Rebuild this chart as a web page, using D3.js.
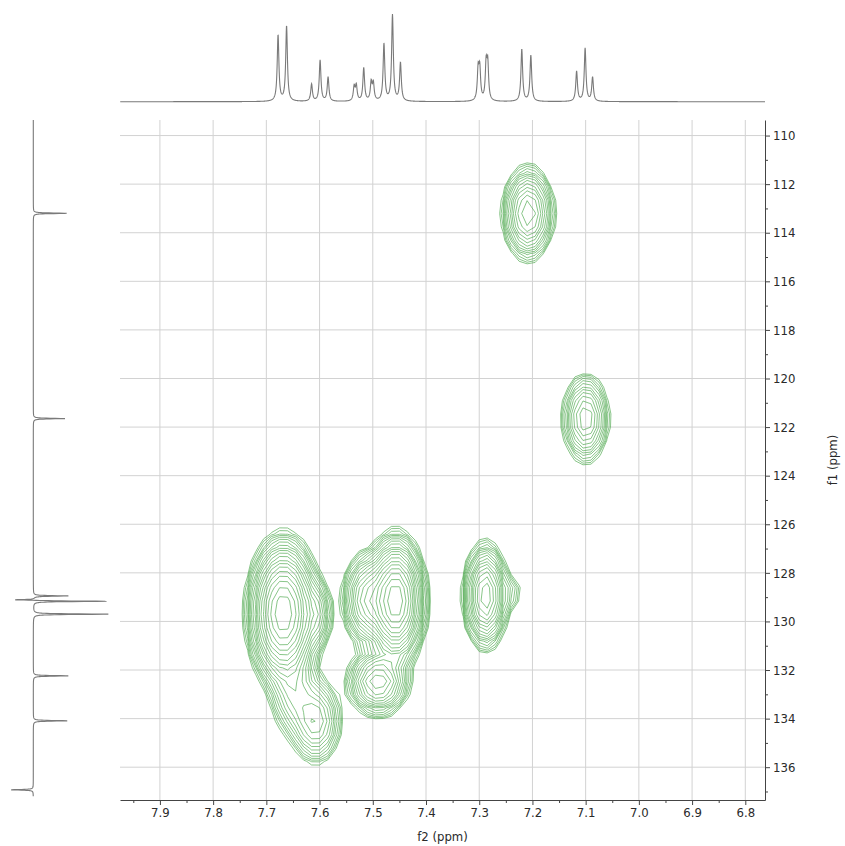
<!DOCTYPE html>
<html>
<head>
<meta charset="utf-8">
<script src="https://cdn.jsdelivr.net/npm/d3@7"></script>
<style>
  body { margin: 0; background: #fff; }
  text { font-family: 'DejaVu Sans Condensed', 'DejaVu Sans', sans-serif; font-size: 13px; fill: #2a2a2a; }
</style>
</head>
<body>
<div id="chart"></div>
<script>
// ---- data ----
const f2Ticks = [7.9, 7.8, 7.7, 7.6, 7.5, 7.4, 7.3, 7.2, 7.1, 7.0, 6.9, 6.8];
const f2Minor = [7.95, 7.85, 7.75, 7.65, 7.55, 7.45, 7.35, 7.25, 7.15, 7.05, 6.95, 6.85];
const f1Ticks = [110, 112, 114, 116, 118, 120, 122, 124, 126, 128, 130, 132, 134, 136];
const f1Minor = [111, 113, 115, 117, 119, 121, 123, 125, 127, 129, 131, 133, 135, 137];

// 1H projection (top): peak positions (ppm) and heights
const hShift  = [7.678, 7.662, 7.615, 7.599, 7.584, 7.535, 7.531, 7.517, 7.503, 7.499, 7.479, 7.463, 7.448, 7.302, 7.299, 7.287, 7.284, 7.220, 7.203, 7.117, 7.101, 7.087];
const hHeight = [66, 75, 17, 41, 24, 14, 15, 33, 18, 17, 57, 86, 38, 30, 30, 35, 35, 52, 46, 30, 53, 24];

// 13C projection (left): peak positions (ppm) and heights (negative = left of baseline)
const cShift  = [113.2, 121.65, 128.95, 129.11, 129.17, 129.70, 132.24, 134.09, 136.93];
const cHeight = [33.4, 31.7, 35, -23, 74.4, 75, 35, 34, -22];

// HSQC cross peaks: centre (f2, f1), spread, number of contour levels
const crossF2  = [7.208, 7.100, 7.288, 7.238, 7.668, 7.605, 7.607, 7.648, 7.457, 7.510, 7.490];
const crossF1  = [113.2, 121.65, 128.95, 128.8, 129.65, 129.7, 134.1, 132.9, 129.15, 129.1, 132.5];
const crossSd2 = [0.0204, 0.0195, 0.0169, 0.011, 0.025, 0.013, 0.022, 0.022, 0.021, 0.02, 0.025];
const crossSd1 = [0.8, 0.8, 0.86, 0.45, 1.15, 0.7, 0.8, 0.9, 1.0, 0.8, 0.56];
const crossLevels = [14, 12, 16, 4, 20, 10, 11, 9, 20, 14, 14];

// ---- layout ----
const width = 845, height = 846;
const plot = {left: 120, right: 765, top: 120, bottom: 800};

const x = d3.scaleLinear().domain([7.975, 6.763]).range([plot.left, plot.right]);
const y = d3.scaleLinear().domain([109.36, 137.35]).range([plot.top, plot.bottom]);
const topY = d3.scaleLinear().domain([0, 100]).range([101.7, 1.7]);
const leftX = d3.scaleLinear().domain([0, 100]).range([33.3, 133.3]);

const svg = d3.select('#chart').append('svg').attr('width', width).attr('height', height);

// grid
svg.append('g').selectAll('line').data(f2Ticks).join('line')
  .attr('x1', d => x(d)).attr('x2', d => x(d))
  .attr('y1', plot.top).attr('y2', plot.bottom)
  .attr('stroke', '#d2d2d2').attr('stroke-width', 1);
svg.append('g').selectAll('line').data(f1Ticks).join('line')
  .attr('x1', plot.left).attr('x2', plot.right)
  .attr('y1', d => y(d)).attr('y2', d => y(d))
  .attr('stroke', '#d2d2d2').attr('stroke-width', 1);

const step2 = 0.015, step1 = 0.55;
const f2Start = 7.975, f1Start = 109.36;
const nx = Math.ceil((7.975 - 6.763) / step2) + 1;
const ny = Math.ceil((137.35 - 109.36) / step1) + 1;
const values = new Float64Array(nx * ny);
for (let j = 0; j < ny; j++) {
  const f1 = f1Start + j * step1;
  for (let i = 0; i < nx; i++) {
    const f2 = f2Start - i * step2;
    let v = 0;
    for (let k = 0; k < crossF2.length; k++) {
      const a = (f2 - crossF2[k]) / crossSd2[k];
      const b = (f1 - crossF1[k]) / crossSd1[k];
      v += Math.pow(1.25, crossLevels[k]) * Math.exp(-0.5 * (a * a + b * b));
    }
    values[i + j * nx] = v;
  }
}
const thresholds = d3.range(0, 26).map(k => Math.pow(1.25, k));
const contours = d3.contours().size([nx, ny]).thresholds(thresholds)(values);
const toPx = p => [x(f2Start - (p[0] - 0.5) * step2), y(f1Start + (p[1] - 0.5) * step1)];

svg.append('defs').append('clipPath').attr('id', 'plotClip')
  .append('rect').attr('x', plot.left).attr('y', plot.top)
  .attr('width', plot.right - plot.left).attr('height', plot.bottom - plot.top);

svg.append('g').attr('clip-path', 'url(#plotClip)')
  .selectAll('path').data(contours).join('path')
  .attr('d', c => c.coordinates.map(poly => poly.map(ring => 'M' + ring.map(p => toPx(p).join(',')).join('L') + 'Z').join('')).join(''))
  .attr('fill', 'none')
  .attr('stroke', '#4fa84f')
  .attr('stroke-opacity', 0.75)
  .attr('stroke-width', 0.9);

// axes
svg.append('g').attr('transform', `translate(0,${plot.bottom})`)
  .call(d3.axisBottom(x).tickValues(f2Ticks).tickFormat(d3.format('.1f')).tickSize(5).tickSizeOuter(0).tickPadding(3));
svg.append('g').attr('transform', `translate(0,${plot.bottom})`)
  .call(d3.axisBottom(x).tickValues(f2Minor).tickFormat('').tickSize(3).tickSizeOuter(0))
  .select('.domain').remove();
svg.append('g').attr('transform', `translate(${plot.right},0)`)
  .call(d3.axisRight(y).tickValues(f1Ticks).tickSize(5).tickSizeOuter(0).tickPadding(3));
svg.append('g').attr('transform', `translate(${plot.right},0)`)
  .call(d3.axisRight(y).tickValues(f1Minor).tickFormat('').tickSize(3).tickSizeOuter(0))
  .select('.domain').remove();
svg.selectAll('.domain, .tick line').attr('stroke', '#444');
svg.selectAll('.tick text').attr('fill', '#2a2a2a').style('font-size', '13px')
  .style('font-family', "'DejaVu Sans Condensed', 'DejaVu Sans', sans-serif");

svg.append('text').attr('x', (plot.left + plot.right) / 2).attr('y', 841)
  .attr('text-anchor', 'middle').text('f2 (ppm)');
svg.append('text').attr('transform', `translate(837,${(plot.top + plot.bottom) / 2}) rotate(-90)`)
  .attr('text-anchor', 'middle').text('f1 (ppm)');

// 1H projection
const hw = 0.0019;
const topPts = d3.range(6.763, 7.975, 0.0004).map(f2 => {
  let v = 0;
  hShift.forEach((s, k) => { const d = (f2 - s) / hw; v += hHeight[k] / (1 + d * d); });
  return [f2, v];
});
svg.append('path').datum(topPts)
  .attr('d', d3.line().x(d => x(d[0])).y(d => topY(d[1])))
  .attr('fill', 'none').attr('stroke', '#7a7a7a').attr('stroke-width', 1.1);

// 13C projection
const cw = 0.015;
const leftPts = d3.range(109.36, 137.2, 0.004).map(f1 => {
  let v = 0;
  cShift.forEach((s, k) => { const d = (f1 - s) / cw; v += cHeight[k] / (1 + d * d); });
  return [f1, v];
});
svg.append('path').datum(leftPts)
  .attr('d', d3.line().x(d => leftX(d[1])).y(d => y(d[0])))
  .attr('fill', 'none').attr('stroke', '#7a7a7a').attr('stroke-width', 1.1);
</script>
</body>
</html>
